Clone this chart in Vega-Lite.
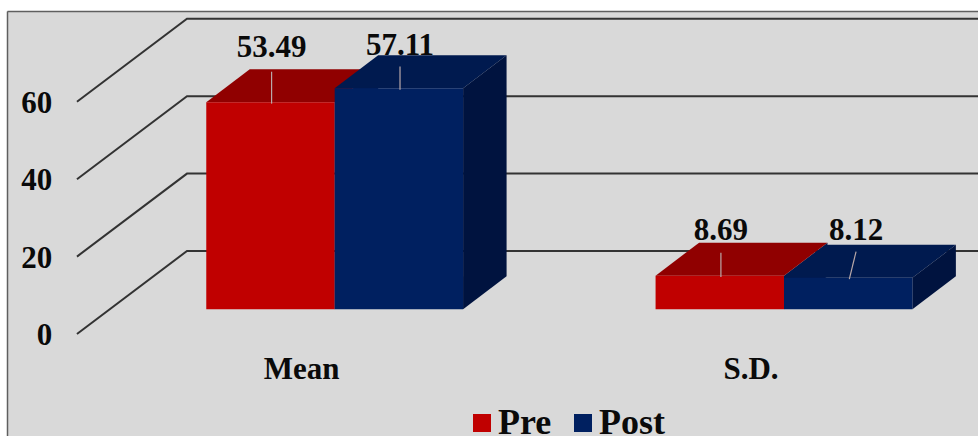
{
  "$schema": "https://vega.github.io/schema/vega-lite/v6.json",
  "width": 971,
  "height": 425,
  "autosize": {"type": "none"},
  "padding": {"left": 7, "top": 11, "right": 0, "bottom": 0},
  "background": "#ffffff",
  "view": {"fill": "#d9d9d9", "stroke": null},
  "config": {"font": "Liberation Serif"},
  "data": {"values": [
    {"stat": "Mean", "series": "Pre", "value": 53.49},
    {"stat": "Mean", "series": "Post", "value": 57.11},
    {"stat": "S.D.", "series": "Pre", "value": 8.69},
    {"stat": "S.D.", "series": "Post", "value": 8.12}
  ]},
  "transform": [
    {"calculate": "datum.stat === 'Mean' ? 0 : 1", "as": "cat"},
    {"calculate": "datum.cat * 2 + (datum.series === 'Post' ? 1 : 0)", "as": "idx"},
    {"calculate": "datum.cat + (datum.series === 'Pre' ? -0.2858 : 0)", "as": "left"},
    {"calculate": "datum.left + 0.2858", "as": "right"},
    {"calculate": "datum.value + 6.38", "as": "top"},
    {"calculate": "datum.left + 0.1454 + (datum.idx === 3 ? 0.015 : 0)", "as": "labelX"},
    {"calculate": "datum.top + [14.0, 10.9, 11.55, 12.1][datum.idx]", "as": "labelY"},
    {"calculate": "datum.left + 0.1454", "as": "leaderBaseX"},
    {"calculate": "datum.top + [7.9, 5.6, 5.9, 6.8][datum.idx]", "as": "leaderTop"},
    {"calculate": "datum.top - 0.35", "as": "leaderBase"},
    {"calculate": "[0, 1]", "as": "depths"},
    {"flatten": ["depths"], "as": ["depth"]},
    {"calculate": "datum.depth * 8.53", "as": "rise"},
    {"calculate": "datum.left + datum.depth * 0.0968", "as": "skewLeft"},
    {"calculate": "datum.right + datum.depth * 0.0968", "as": "skewRight"},
    {"calculate": "datum.top + datum.rise", "as": "skewTop"},
    {"calculate": "6.38 + datum.rise", "as": "skewBase"}
  ],
  "layer": [
    {
      "data": {"values": [{"tick": 0}, {"tick": 20}, {"tick": 40}, {"tick": 60}]},
      "transform": [
        {"calculate": "[0, 1, 2]", "as": "pts"},
        {"flatten": ["pts"], "as": ["pt"]},
        {"calculate": "[-0.5736, -0.3287, 1.4318][datum.pt]", "as": "gx"},
        {"calculate": "datum.tick + (datum.pt > 0 ? 21.45 : 0)", "as": "gy"}
      ],
      "mark": {"type": "line", "color": "#333333", "strokeWidth": 2, "strokeJoin": "miter"},
      "encoding": {
        "x": {"field": "gx", "type": "quantitative", "scale": {"domain": [-0.7293, 1.4318], "nice": false, "zero": false},
          "axis": {"orient": "top", "title": null, "labels": false, "ticks": false, "grid": false, "domain": true, "domainColor": "#5f5f5f", "domainWidth": 1.5}},
        "y": {"field": "gy", "type": "quantitative", "scale": {"domain": [-26.36, 83.46], "nice": false, "zero": false},
          "axis": {"title": null, "values": [0, 20, 40, 60], "grid": false, "ticks": false, "domain": true, "domainColor": "#5f5f5f", "domainWidth": 1.5,
            "labelPadding": -44.7, "labelAlign": "right", "labelBaseline": "middle", "labelFont": "Liberation Serif", "labelFontWeight": "bold", "labelFontSize": 31, "labelColor": "#0a0a0a", "labelOffset": 1.5, "labelOverlap": false, "labelFlush": false}},
        "detail": {"field": "tick"},
        "order": {"field": "pt"}
      }
    },
    {
      "transform": [{"filter": "datum.series === 'Pre'"}],
      "mark": {"type": "area", "color": "#001a4f", "opacity": 1},
      "encoding": {
        "x": {"field": "skewRight", "type": "quantitative", "scale": {"domain": [-0.7293, 1.4318], "nice": false, "zero": false}},
        "y": {"field": "skewTop", "type": "quantitative", "scale": {"domain": [-26.36, 83.46], "nice": false, "zero": false}},
        "y2": {"field": "skewBase"},
        "detail": {"field": "idx"}
      }
    },
    {
      "mark": {"type": "area", "orient": "horizontal", "opacity": 1},
      "encoding": {
        "y": {"field": "skewTop", "type": "quantitative", "scale": {"domain": [-26.36, 83.46], "nice": false, "zero": false}},
        "x": {"field": "skewLeft", "type": "quantitative", "scale": {"domain": [-0.7293, 1.4318], "nice": false, "zero": false}},
        "x2": {"field": "skewRight"},
        "detail": {"field": "idx"},
        "color": {"field": "series", "type": "nominal", "sort": ["Pre", "Post"], "scale": {"domain": ["Pre", "Post"], "range": ["#900000", "#001a4f"]}, "legend": null}
      }
    },
    {
      "transform": [{"filter": "datum.series === 'Post'"}],
      "mark": {"type": "area", "color": "#00133f", "opacity": 1},
      "encoding": {
        "x": {"field": "skewRight", "type": "quantitative", "scale": {"domain": [-0.7293, 1.4318], "nice": false, "zero": false}},
        "y": {"field": "skewTop", "type": "quantitative", "scale": {"domain": [-26.36, 83.46], "nice": false, "zero": false}},
        "y2": {"field": "skewBase"},
        "detail": {"field": "idx"}
      }
    },
    {
      "transform": [{"filter": "datum.depth === 0"}],
      "mark": {"type": "rect"},
      "encoding": {
        "x": {"field": "left", "type": "quantitative", "scale": {"domain": [-0.7293, 1.4318], "nice": false, "zero": false}},
        "x2": {"field": "right"},
        "y": {"field": "top", "type": "quantitative", "scale": {"domain": [-26.36, 83.46], "nice": false, "zero": false}},
        "y2": {"field": "skewBase"},
        "order": {"field": "idx"},
        "color": {"field": "series", "type": "nominal", "sort": ["Pre", "Post"], "scale": {"domain": ["Pre", "Post"], "range": ["#c00000", "#002060"]},
          "legend": {"orient": "none", "legendX": 457, "legendY": 394, "direction": "horizontal", "title": null, "symbolType": "square", "symbolSize": 324, "symbolStrokeWidth": 0, "symbolOpacity": 1,
            "labelFont": "Liberation Serif", "labelFontWeight": "bold", "labelFontSize": 36, "labelColor": "#0a0a0a", "labelOffset": -2, "columnPadding": 13, "rowPadding": 0, "padding": 0}}
      }
    },
    {
      "transform": [{"filter": "datum.depth === 0"}],
      "mark": {"type": "rule", "color": "#b9a9a9", "strokeWidth": 1.2},
      "encoding": {
        "x": {"field": "labelX", "type": "quantitative", "scale": {"domain": [-0.7293, 1.4318], "nice": false, "zero": false}},
        "x2": {"field": "leaderBaseX"},
        "y": {"field": "leaderTop", "type": "quantitative", "scale": {"domain": [-26.36, 83.46], "nice": false, "zero": false}},
        "y2": {"field": "leaderBase"}
      }
    },
    {
      "transform": [{"filter": "datum.depth === 0"}],
      "mark": {"type": "text", "font": "Liberation Serif", "fontWeight": "bold", "fontSize": 31, "color": "#0a0a0a", "align": "center", "baseline": "middle"},
      "encoding": {
        "x": {"field": "labelX", "type": "quantitative", "scale": {"domain": [-0.7293, 1.4318], "nice": false, "zero": false}},
        "y": {"field": "labelY", "type": "quantitative", "scale": {"domain": [-26.36, 83.46], "nice": false, "zero": false}},
        "text": {"field": "value", "type": "quantitative", "format": ".2f"}
      }
    },
    {
      "data": {"values": [{"stat": "Mean", "cat": 0}, {"stat": "S.D.", "cat": 1}]},
      "transform": [
        {"calculate": "datum.cat - 0.0735", "as": "captionX"},
        {"calculate": "-9.3", "as": "captionY"}
      ],
      "mark": {"type": "text", "font": "Liberation Serif", "fontWeight": "bold", "fontSize": 31, "color": "#0a0a0a", "align": "center", "baseline": "middle"},
      "encoding": {
        "x": {"field": "captionX", "type": "quantitative", "scale": {"domain": [-0.7293, 1.4318], "nice": false, "zero": false}},
        "y": {"field": "captionY", "type": "quantitative", "scale": {"domain": [-26.36, 83.46], "nice": false, "zero": false}},
        "text": {"field": "stat"}
      }
    }
  ],
  "resolve": {"scale": {"color": "independent"}}
}
